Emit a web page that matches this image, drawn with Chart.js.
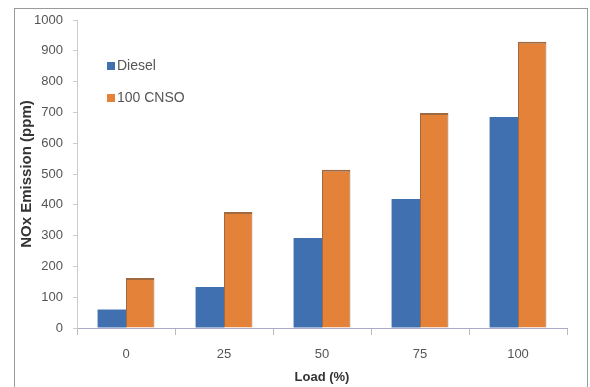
<!DOCTYPE html>
<html><head><meta charset="utf-8">
<script src="https://cdn.jsdelivr.net/npm/chart.js@4/dist/chart.umd.min.js"></script>
<style>
html,body{margin:0;padding:0;background:#fff;}
#wrap{position:relative;width:590px;height:387px;}
#frame{position:absolute;left:14px;top:8px;width:574px;height:385px;border:1px solid #9a9a9a;box-sizing:border-box;}
canvas{position:absolute;left:0;top:0;}
</style></head>
<body><div id="wrap"><div id="frame"></div><canvas id="c" width="590" height="387"></canvas></div>
<script>
const categories = ['0','25','50','75','100'];
const dieselValues = [60, 133, 292, 419, 685];
const cnsoValues = [162, 377, 514, 698, 929];
const seriesLabels = ['Diesel','100 CNSO'];
const yTicks = [0,100,200,300,400,500,600,700,800,900,1000];

const FONT = '"Liberation Sans", Arial, sans-serif';

const legendPlugin = {
  id: 'insideLegend',
  afterDraw(chart){
    const ctx = chart.ctx;
    const x = 107, ys = [66, 98];
    ctx.save();
    ctx.font = '14px ' + FONT;
    ctx.textBaseline = 'middle';
    chart.data.datasets.forEach((ds, i) => {
      ctx.fillStyle = ds.backgroundColor;
      ctx.fillRect(x, ys[i]-4, 8, 8);
      ctx.fillStyle = '#555';
      ctx.fillText(ds.label, x + 10, ys[i]);
    });
    ctx.restore();
  }
};

new Chart(document.getElementById('c'), {
  type: 'bar',
  data: {
    labels: categories,
    datasets: [
      {label: seriesLabels[0], data: dieselValues, backgroundColor: '#4170b0', borderWidth: 0},
      {label: seriesLabels[1], data: cnsoValues, backgroundColor: '#e4823a', borderColor: '#a0693f', borderWidth: {top:2,left:1,right:1,bottom:0}}
    ]
  },
  options: {
    responsive: false,
    animation: false,
    layout: {padding: {left: 14, top: 20, right: 23, bottom: 0}},
    plugins: {legend: {display: false}, tooltip: {enabled: false}},
    datasets: {bar: {categoryPercentage: 0.58, barPercentage: 1.0}},
    scales: {
      x: {
        grid: {drawOnChartArea: false, offset: true, tickLength: 7, color: '#bbb'},
        border: {color: '#aac', width: 1},
        ticks: {color: '#555', font: {family: FONT, size: 13}, padding: 12},
        title: {display: true, text: 'Load (%)', color: '#333', font: {family: FONT, size: 13, weight: 'bold'}, padding: {top: 2, bottom: 2}},
        afterFit(s){ s.height = 59; }
      },
      y: {
        min: 0, max: 1000,
        afterBuildTicks(s){ s.ticks = yTicks.map(v => ({value: v})); },
        grid: {drawOnChartArea: false, tickLength: 4, color: '#ccc'},
        border: {color: '#ccc', width: 1},
        ticks: {color: '#555', font: {family: FONT, size: 13}, padding: 10, callback: v => String(v)},
        title: {display: true, text: 'NOx Emission (ppm)', color: '#333', font: {family: FONT, size: 15, weight: 'bold'}, padding: {top: 4, bottom: 0}},
        afterFit(s){ s.width = 63; }
      }
    }
  },
  plugins: [legendPlugin]
});
</script></body></html>
